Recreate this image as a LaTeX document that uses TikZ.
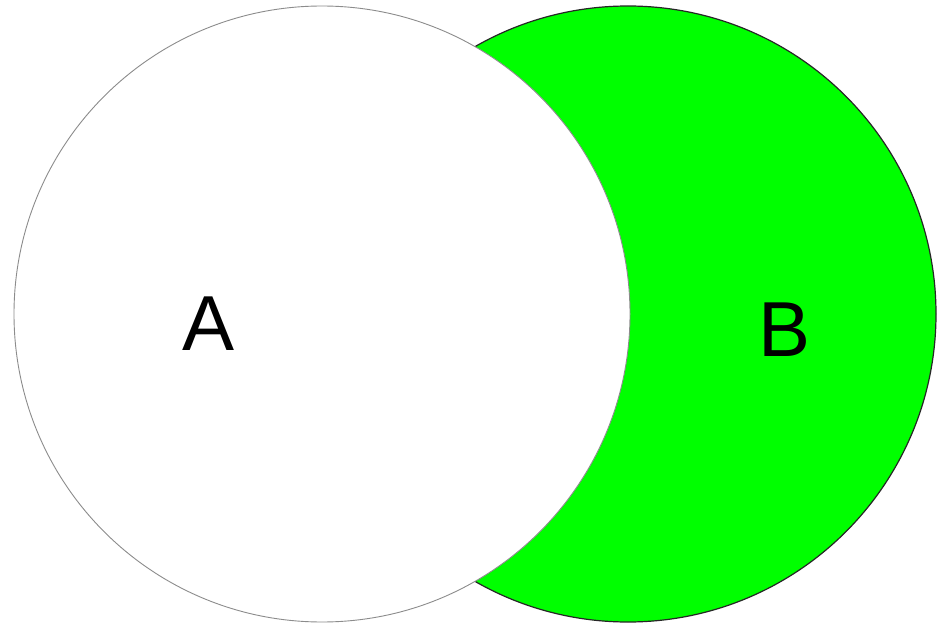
\documentclass[tikz,border=0pt]{standalone}
\usepackage{fontspec}
\setmainfont{Liberation Sans}
\begin{document}
\begin{tikzpicture}[x=1pt,y=-1pt,
  lbl/.style={font=\fontsize{78}{80}\selectfont, text=black, inner sep=0pt}]
\useasboundingbox (0,0) rectangle (938,623);
\fill[white] (0,0) rectangle (938,623);
\node[circle, draw=black!85, line width=1.2pt, fill={rgb,255:red,0;green,255;blue,0}, minimum size=616pt, inner sep=0pt] (b) at (628,314) {};
\node[circle, draw=black!45, line width=0.9pt, fill=white, minimum size=616pt, inner sep=0pt] (a) at (322,314) {};
\node[lbl] (la) at (209,324) {A};
\node[lbl] (lb) at (785,330) {B};
\end{tikzpicture}
\end{document}
